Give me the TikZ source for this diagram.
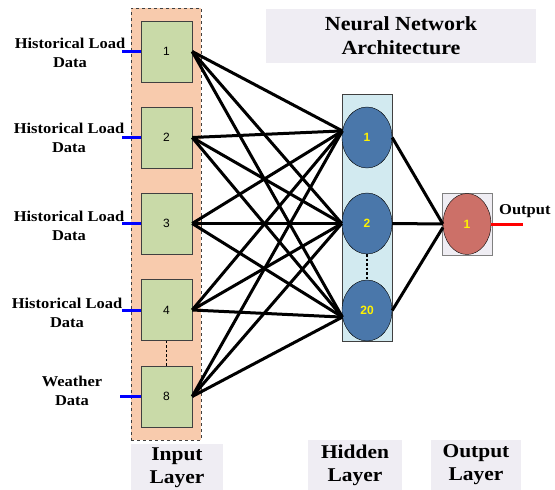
\documentclass[tikz,border=0pt]{standalone}
\usepackage{fontspec}
\setmainfont{Liberation Serif}[FakeStretch=1.1]
\newfontfamily\numfont{Liberation Sans}
\usetikzlibrary{shapes.geometric}
\definecolor{orangebg}{HTML}{F8CBAD}
\definecolor{greenbox}{HTML}{C9DAA8}
\definecolor{cyanbg}{HTML}{D2EAF0}
\definecolor{bluenode}{HTML}{4A77AA}
\definecolor{rednode}{HTML}{CC7068}
\definecolor{lavender}{HTML}{EFEDF3}
\definecolor{edgegray}{HTML}{404040}
\tikzset{
  inbox/.style={draw=edgegray, fill=greenbox, minimum width=51pt, minimum height=61pt, inner sep=0pt, font=\numfont\fontsize{12}{14}\selectfont},
  hnode/.style={ellipse, draw=black, fill=bluenode, minimum width=50pt, minimum height=61pt, inner sep=0pt, text=yellow, font=\numfont\bfseries\fontsize{12}{14}\selectfont},
  onode/.style={ellipse, draw=black, fill=rednode, minimum width=48pt, minimum height=61pt, inner sep=0pt, text=yellow, font=\numfont\bfseries\fontsize{12}{14}\selectfont},
  lbl/.style={align=center, font=\bfseries\fontsize{15}{19}\selectfont, inner sep=0pt},
  conn/.style={line width=3pt, black},
  feed/.style={line width=3pt, blue},
  tag/.style={fill=lavender, align=center, inner sep=0pt, font=\bfseries\fontsize{19.5}{23}\selectfont},
}
\begin{document}
\begin{tikzpicture}[x=1pt,y=-1pt]
\useasboundingbox (0,0) rectangle (555,490);
% containers
\node[draw=edgegray, dashed, fill=orangebg, minimum width=70pt, minimum height=432pt, inner sep=0pt] (inlayer) at (166,224) {};
\node[draw=edgegray, fill=cyanbg, minimum width=50pt, minimum height=247pt, inner sep=0pt] (hidlayer) at (367,217.5) {};
\node[draw=gray, fill=lavender, minimum width=50pt, minimum height=62pt, inner sep=0pt] (outlayer) at (467,224) {};
% title
\node[fill=lavender, minimum width=270pt, minimum height=54pt, inner sep=0pt] (titlebox) at (401,36) {};
\node[lbl, font=\bfseries\fontsize{20}{24}\selectfont] (title) at (401,36) {Neural Network\\Architecture};
% input boxes
\node[inbox] (i1) at (166.5,51.5) {1};
\node[inbox] (i2) at (166.5,137.5) {2};
\node[inbox] (i3) at (166.5,223.5) {3};
\node[inbox] (i4) at (166.5,310) {4};
\node[inbox] (i8) at (166.5,396.5) {8};
\draw[line width=1.4pt, dash pattern=on 2.5pt off 2pt] (i4.south) -- (i8.north);
% hidden
\node[hnode] (h1) at (367,137.5) {1};
\node[hnode] (h2) at (367,223.5) {2};
\node[hnode] (h20) at (367,310.5) {20};
\draw[line width=1.4pt, dash pattern=on 2.5pt off 2pt] (h2.south) -- (h20.north);
% output
\node[onode] (o1) at (467,224) {1};
% input feeds and labels
\foreach \n/\xl in {i1/122,i2/122,i3/122,i4/122,i8/120}{
  \coordinate (f\n) at (\xl,0 |- \n.west);
}
\draw[feed] (fi1) -- (i1.west);
\draw[feed] (fi2) -- (i2.west);
\draw[feed] (fi3) -- (i3.west);
\draw[feed] (fi4) -- (i4.west);
\draw[feed] (fi8) -- (i8.west);
\node[lbl] (l1) at (70,53) {Historical Load\\Data};
\node[lbl] (l2) at (69,138) {Historical Load\\Data};
\node[lbl] (l3) at (69,226) {Historical Load\\Data};
\node[lbl] (l4) at (67,313) {Historical Load\\Data};
\node[lbl] (l8) at (72,391) {Weather\\Data};
% connections input -> hidden
\foreach \i in {i1,i2,i3,i4,i8}{
  \draw[conn] (\i.east) -- (h1.165);
  \draw[conn] (\i.east) -- (h2.west);
  \draw[conn] (\i.east) -- (h20.195);
}
% hidden -> output
\draw[conn] (h1.east) -- (o1.west);
\draw[conn] (h2.east) -- (o1.west);
\draw[conn] (h20.east) -- (o1.188);
% output
\coordinate (oend) at (523,224);
\draw[line width=3pt, red] (o1.east) -- (oend);
\node[lbl, anchor=west] (outtxt) at (499,211) {Output};
% layer tags
\node[tag, minimum width=92pt, minimum height=47pt] (tin) at (177,467.5) {Input\\Layer};
\node[tag, minimum width=94pt, minimum height=50pt] (thid) at (355,465) {Hidden\\Layer};
\node[tag, minimum width=90pt, minimum height=50pt] (tout) at (476,465) {Output\\Layer};
\end{tikzpicture}
\end{document}
